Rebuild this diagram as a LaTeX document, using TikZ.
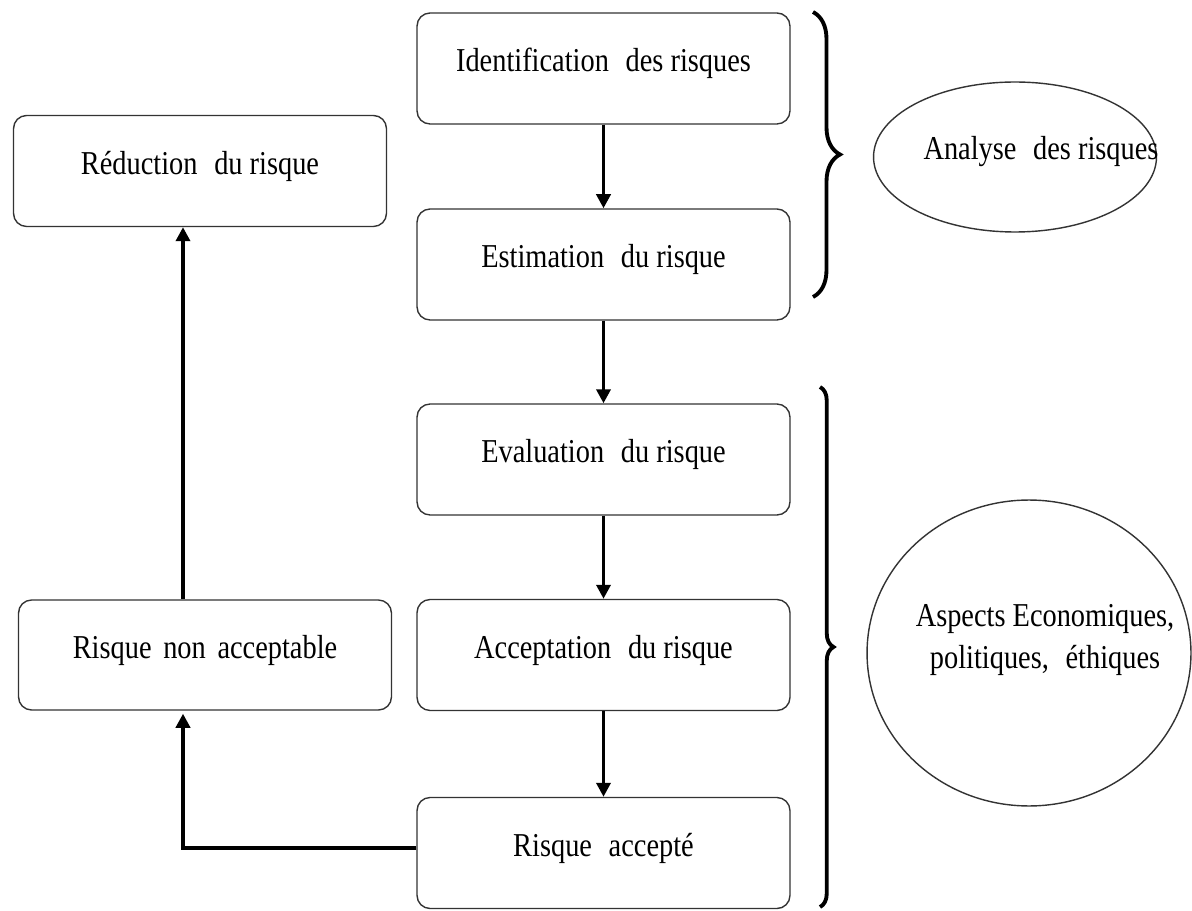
\documentclass[tikz,border=0pt]{standalone}
\usepackage{fontspec}
\setmainfont{Liberation Serif}[FakeStretch=0.85]
\usetikzlibrary{shapes.geometric,decorations.pathreplacing,arrows.meta}
% wide gaps between words
\newcommand{\dsp}{\hspace{0.5em}}
\newcommand{\msp}{\hspace{0.35em}}
\begin{document}
\begin{tikzpicture}[x=0.02cm, y=-0.02cm,
  txt/.style={font=\fontsize{19pt}{24.4pt}\selectfont},
  stepbox/.style={txt, draw=black!80, line width=0.8pt, rounded corners=0.26cm,
    minimum width=7.46cm, minimum height=2.22cm, inner sep=0pt,
    text height=12.6pt, text depth=9pt},
  bubble/.style={ellipse, draw=black!80, line width=0.8pt, inner sep=0pt},
  arr/.style={line width=2pt, -{Triangle[length=8pt,width=8pt]}},
  bracket/.style={line width=2.2pt, decorate},
]
\useasboundingbox (0,0) rectangle (1192,911);
\fill[white] (0,0) rectangle (1192,911);

% main chain
\node[stepbox] (ident)   at (603.5,68.5) {Identification\dsp des risques};
\node[stepbox] (estim)   at (603.5,264.5) {Estimation\dsp du risque};
\node[stepbox] (evalu)   at (603.5,459.5) {Evaluation\dsp du risque};
\node[stepbox] (accept)  at (603.5,655) {Acceptation\dsp du risque};
\node[stepbox] (accepte) at (603.5,853) {Risque\dsp accepté};

% left column
\node[stepbox] (reduc)  at (200,171) {Réduction\dsp du risque};
\node[stepbox, minimum height=2.2cm] (nonacc) at (205,655) {Risque\msp non\msp acceptable};

% arrows
\draw[arr] (ident) -- (estim);
\draw[arr] (estim) -- (evalu);
\draw[arr] (evalu) -- (accept);
\draw[arr] (accept) -- (accepte);
\coordinate (turn) at (183,848);
\draw[arr] (accepte.west |- turn) -- (turn) -- ([yshift=-0.06cm]nonacc.south -| turn);
\draw[arr] (nonacc.north -| turn) -- (reduc.south -| turn);

% braces
\draw[bracket, decoration={brace, amplitude=0.54cm}] (813,12) -- (813,297);
\draw[bracket, decoration={brace, amplitude=0.27cm}] (820,387) -- (820,907);

% ellipses
\node[bubble, minimum width=5.66cm, minimum height=3.0cm] (ana) at (1015,157) {};
\node[txt] (anatxt) at (1041,152) {Analyse\dsp des risques};
\node[bubble, minimum width=6.48cm, minimum height=6.12cm] (asp) at (1029,653) {};
\node[txt, align=center] (asptxt) at (1045,640) {Aspects Economiques,\\politiques,\dsp éthiques};
\end{tikzpicture}
\end{document}
